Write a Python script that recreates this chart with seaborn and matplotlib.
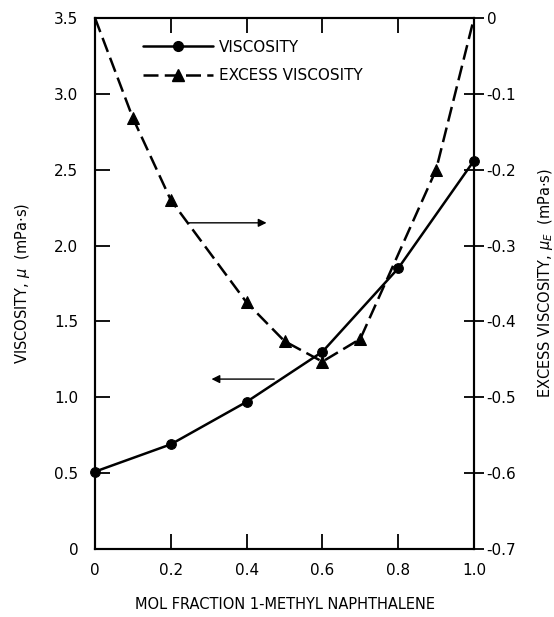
import numpy as np
import pandas as pd
import matplotlib
matplotlib.use('Agg')
import matplotlib.pyplot as plt
from matplotlib.lines import Line2D
import seaborn as sns

sns.set_style('ticks')
plt.rcParams['font.family'] = ['DejaVu Sans']
plt.rcParams['text.color'] = 'k'
plt.rcParams['axes.labelcolor'] = 'k'
plt.rcParams['xtick.color'] = 'k'
plt.rcParams['ytick.color'] = 'k'
plt.rcParams['axes.edgecolor'] = 'k'

# Data
x_visc = [0.0, 0.2, 0.4, 0.6, 0.8, 1.0]
viscosity = [0.51, 0.69, 0.97, 1.30, 1.85, 2.56]

x_excess = [0.0, 0.1, 0.2, 0.4, 0.5, 0.6, 0.7, 0.9, 1.0]
excess = [0.0, -0.132, -0.24, -0.375, -0.426, -0.453, -0.423, -0.20, 0.0]

left_ticks = [0, 0.5, 1.0, 1.5, 2.0, 2.5, 3.0, 3.5]
left_labels = ['0', '0.5', '1.0', '1.5', '2.0', '2.5', '3.0', '3.5']
right_ticks = [0, -0.1, -0.2, -0.3, -0.4, -0.5, -0.6, -0.7]
right_labels = ['0', '-0.1', '-0.2', '-0.3', '-0.4', '-0.5', '-0.6', '-0.7']
x_ticks = [0, 0.2, 0.4, 0.6, 0.8, 1.0]
x_labels = ['0', '0.2', '0.4', '0.6', '0.8', '1.0']

df_v = pd.DataFrame({'x': x_visc, 'mu': viscosity})
df_e = pd.DataFrame({'x': x_excess, 'muE': excess})

fig = plt.figure(figsize=(5.54, 6.17), dpi=100)
ax = fig.add_axes([0.1715, 0.1102, 0.6841, 0.8606])
ax2 = ax.twinx()

# Viscosity (left axis)
sns.lineplot(data=df_v, x='x', y='mu', ax=ax, color='k', linewidth=1.8,
             marker='o', markersize=7, markeredgecolor='k', clip_on=False)

# Excess viscosity (right axis)
sns.lineplot(data=df_e, x='x', y='muE', ax=ax2, color='k', linewidth=1.8,
             linestyle=(0, (6, 2.5)), marker='^', markersize=8,
             markeredgecolor='k', markevery=list(range(1, len(x_excess) - 1)),
             clip_on=False)

ax.set_xlim(0, 1.0)
ax.set_ylim(0, 3.5)
ax2.set_ylim(-0.7, 0)

ax.set_xticks(x_ticks)
ax.set_xticklabels(x_labels)
ax.set_yticks(left_ticks)
ax.set_yticklabels(left_labels)
ax2.set_yticks(right_ticks)
ax2.set_yticklabels(right_labels)

for a in (ax, ax2):
    for s in a.spines.values():
        s.set_linewidth(1.5)
        s.set_visible(True)

ax.tick_params(axis='both', direction='in', length=11, width=1.3,
               labelsize=11, pad=12, top=True, right=False)
ax.tick_params(axis='x', pad=10)
ax2.tick_params(axis='y', direction='inout', length=14, width=1.3,
                labelsize=11, pad=2)

ax.set_xlabel('MOL FRACTION 1-METHYL NAPHTHALENE', fontsize=10.5, labelpad=14)
ax.set_ylabel(r'VISCOSITY, $\mu$  (mPa$\cdot$s)', fontsize=10.5, labelpad=16)
ax2.set_ylabel(r'EXCESS VISCOSITY, $\mu_E$  (mPa$\cdot$s)', fontsize=10.5,
               labelpad=14, rotation=90)

# Arrows pointing to the relevant axis
ax.annotate('', xy=(0.46, 2.15), xytext=(0.24, 2.15),
            arrowprops=dict(arrowstyle='-|>', color='k', lw=1.0,
                            mutation_scale=12))
ax.annotate('', xy=(0.30, 1.12), xytext=(0.48, 1.12),
            arrowprops=dict(arrowstyle='-|>', color='k', lw=1.0,
                            mutation_scale=12))

handles = [
    Line2D([], [], color='k', lw=1.8, marker='o', markersize=7),
    Line2D([], [], color='k', lw=1.8, linestyle=(0, (6, 2.5)), marker='^',
           markersize=8),
]
ax.legend(handles, ['VISCOSITY', 'EXCESS VISCOSITY'], loc='upper left',
          bbox_to_anchor=(0.09, 0.985), frameon=False, fontsize=11,
          handlelength=4.6, handletextpad=0.4, labelspacing=0.9, numpoints=1)
if ax2.get_legend() is not None:
    ax2.get_legend().remove()

fig.savefig('out.png', dpi=100)
